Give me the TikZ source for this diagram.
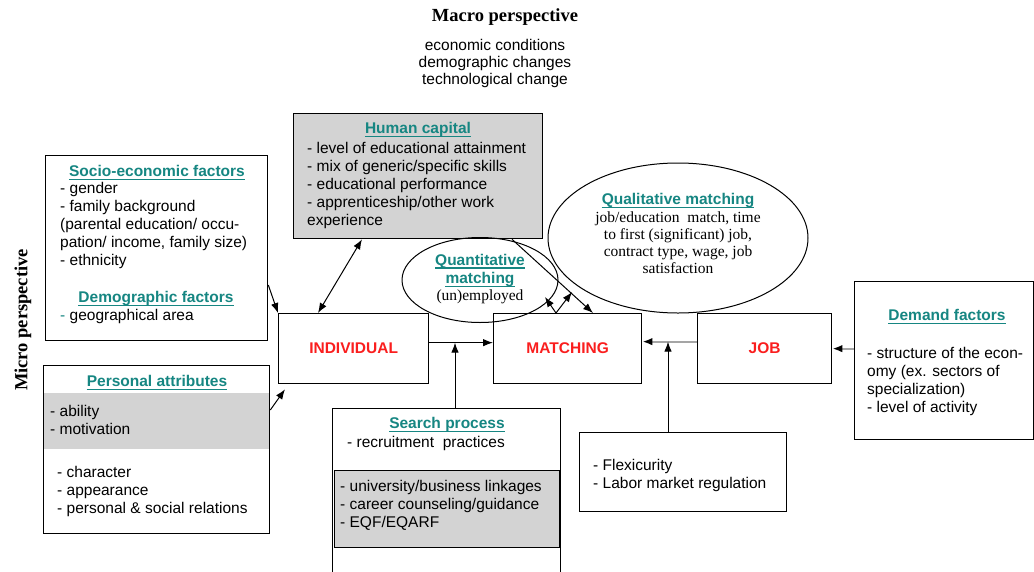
\documentclass[tikz,border=0pt]{standalone}
\usepackage{fontspec}
\setmainfont{Liberation Sans}
\newfontfamily\serifff{Liberation Serif}
\usetikzlibrary{shapes.geometric,arrows.meta,calc}
\definecolor{tealt}{RGB}{22,134,130}
\definecolor{redt}{RGB}{250,30,30}
\definecolor{grayfill}{RGB}{211,211,211}
\definecolor{grayline}{RGB}{165,165,165}
\newcommand\fs{\fontsize{15.5}{18}\selectfont}
\newcommand\fss{\serifff\fontsize{15.5}{17}\selectfont}
\newcommand\st{\rule{0pt}{12pt}}
\begin{document}
\begin{tikzpicture}[x=1pt,y=-1pt,
  box/.style={draw=black, line width=1.3pt, inner sep=0pt, anchor=north west},
  txt/.style={inner sep=0pt, anchor=north west, align=left, font=\fs},
  ttl/.style={inner sep=0pt, anchor=base, font=\fs\bfseries, text=tealt},
  ul/.style={draw=tealt, line width=1.8pt},
  lbl/.style={font=\fs\bfseries, text=redt},
  arr/.style={line width=1pt, -{Latex[length=10pt,width=7.5pt]}},
  darr/.style={line width=1pt, {Latex[length=10pt,width=7.5pt]}-{Latex[length=10pt,width=7.5pt]}},
  garr/.style={draw=grayline, line width=2pt, -{Latex[length=10pt,width=7.5pt,color=black]}},
  ell/.style={draw=black, line width=1pt, ellipse, inner sep=0pt}]
\useasboundingbox (0,0) rectangle (1034,571);
\fill[white] (0,0) rectangle (1034,571);

% macro / micro
\node[font=\serifff\bfseries\fontsize{18.5}{20}\selectfont, anchor=base, inner sep=0pt] (macro) at (505,21) {Macro perspective};
\node[inner sep=0pt, anchor=north, align=center, font=\fontsize{15.5}{17}\selectfont] (macrol) at (495,38) {\st economic conditions\\demographic changes\\technological change};
\node[font=\serifff\bfseries\fontsize{18.5}{20}\selectfont, rotate=90, inner sep=0pt] (micro) at (23,320) {Micro perspective};

% socio-economic
\node[box, minimum width=222pt, minimum height=185pt] (socio) at (45,155) {};
\node[ttl] (socioT) at (157,176) {Socio-economic factors};
\draw[ul] ([yshift=-3.5pt]socioT.base west) -- ([yshift=-3.5pt]socioT.base east);
\node[txt] (sociot) at (60,181) {\st- gender\\- family background\\(parental education/ occu-\\pation/ income, family size)\\- ethnicity};
\node[ttl] (demoT) at (156,302) {Demographic factors};
\draw[ul] ([yshift=-3.5pt]demoT.base west) -- ([yshift=-3.5pt]demoT.base east);
\node[txt] (demot) at (60,308) {\st\textcolor{tealt}{-} geographical area};

% personal attributes
\fill[grayfill] (43,393) rectangle (269,449);
\node[box, minimum width=226pt, minimum height=168pt] (pers) at (43,365) {};
\node[ttl] (persT) at (157,386) {Personal attributes};
\draw[ul] ([yshift=-3.5pt]persT.base west) -- ([yshift=-3.5pt]persT.base east);
\node[txt] (perst1) at (50,404) {\st- ability\\- motivation};
\node[txt] (perst2) at (57,465) {\st- character\\- appearance\\- personal \& social relations};

% human capital
\node[box, fill=grayfill, minimum width=249pt, minimum height=125pt] (hum) at (293,113) {};
\node[ttl] (humT) at (418,133) {Human capital};
\draw[ul] ([yshift=-3.5pt]humT.base west) -- ([yshift=-3.5pt]humT.base east);
\node[txt] (humt) at (307,141) {\st- level of educational attainment\\- mix of generic/specific skills\\- educational performance\\- apprenticeship/other work\\experience};

% ellipses
\node[ell, minimum width=156pt, minimum height=85pt] (quant) at (480,280) {};
\node[ttl] (quantT1) at (480,265) {Quantitative};
\draw[ul] ([yshift=-3pt]quantT1.base west) -- ([yshift=-3pt]quantT1.base east);
\node[ttl] (quantT2) at (480,283) {matching};
\draw[ul] ([yshift=-3.5pt]quantT2.base west) -- ([yshift=-3.5pt]quantT2.base east);
\node[anchor=base, font=\fss, inner sep=0pt] (quantt) at (480,300) {(un)employed};

\node[ell, minimum width=260pt, minimum height=150pt] (qual) at (678,238) {};
\node[ttl] (qualT) at (678,204) {Qualitative matching};
\draw[ul] ([yshift=-3.5pt]qualT.base west) -- ([yshift=-3.5pt]qualT.base east);
\node[inner sep=0pt, anchor=north, align=center, font=\fss] (qualt) at (678,210) {\st job/education\ \ match, time\\to first (significant) job,\\contract type, wage, job\\satisfaction};

% main boxes
\node[box, lbl, minimum width=150pt, minimum height=70pt] (indiv) at (278,313) {INDIVIDUAL};
\node[box, lbl, minimum width=148pt, minimum height=70pt] (match) at (493,313) {MATCHING};
\node[box, lbl, minimum width=134pt, minimum height=70pt] (job) at (697,313) {JOB};

% demand
\node[box, minimum width=179pt, minimum height=158pt] (dem) at (854,281) {};
\node[ttl] (demT) at (947,320) {Demand factors};
\draw[ul] ([yshift=-3.5pt]demT.base west) -- ([yshift=-3.5pt]demT.base east);
\node[txt] (demt) at (867,346) {\st- structure of the econ-\\omy (ex. sectors of\\specialization)\\- level of activity};

% search process
\begin{scope}
\clip (0,0) rectangle (1034,571);
\node[box, minimum width=228pt, minimum height=200pt] (search) at (332,408) {};
\end{scope}
\node[box, fill=grayfill, minimum width=225pt, minimum height=77pt] (sgray) at (333.5,470) {};
\node[ttl] (searchT) at (447,428) {Search process};
\draw[ul] ([yshift=-3.5pt]searchT.base west) -- ([yshift=-3.5pt]searchT.base east);
\node[txt] (searcht) at (347,435) {\st- recruitment\ \ practices};
\node[txt] (sgrayt) at (340,479) {\st- university/business linkages\\- career counseling/guidance\\- EQF/EQARF};

% flexicurity
\node[box, minimum width=207pt, minimum height=79pt] (flex) at (579,432) {};
\node[txt] (flext) at (593,458) {\st- Flexicurity\\- Labor market regulation};

% connectors
\draw[arr] ([yshift=-130pt]socio.north east) -- (indiv.north west);
\draw[arr] ([yshift=-45pt]pers.north east) -- ([xshift=7pt,yshift=-5pt]indiv.south west);
\draw[darr] ([xshift=69pt]hum.south west) -- ([xshift=40pt]indiv.north west);
\draw[arr] ([xshift=219pt]hum.south west) -- ([xshift=100pt]match.north west);
\coordinate (vb) at ([xshift=63pt]match.north west);
\coordinate (vq) at (545,297);
\coordinate (vl) at (572,292);
\draw[arr] (vb) -- (vq);
\draw[arr] (vb) -- (vl);
\coordinate (im) at ([yshift=6pt]indiv.east);
\draw[arr] (im) -- (im -| match.west);
\coordinate (sp) at ([xshift=123pt]search.north west);
\draw[arr] (sp) -- (sp |- im);
\coordinate (jm) at ([yshift=7pt]job.west);
\draw[garr] (jm) -- (jm -| match.east);
\coordinate (fp) at ([xshift=89pt]flex.north west);
\draw[arr] (fp) -- (fp |- jm);
\draw[garr] (job.east -| dem.west) -- (job.east);
\end{tikzpicture}
\end{document}
